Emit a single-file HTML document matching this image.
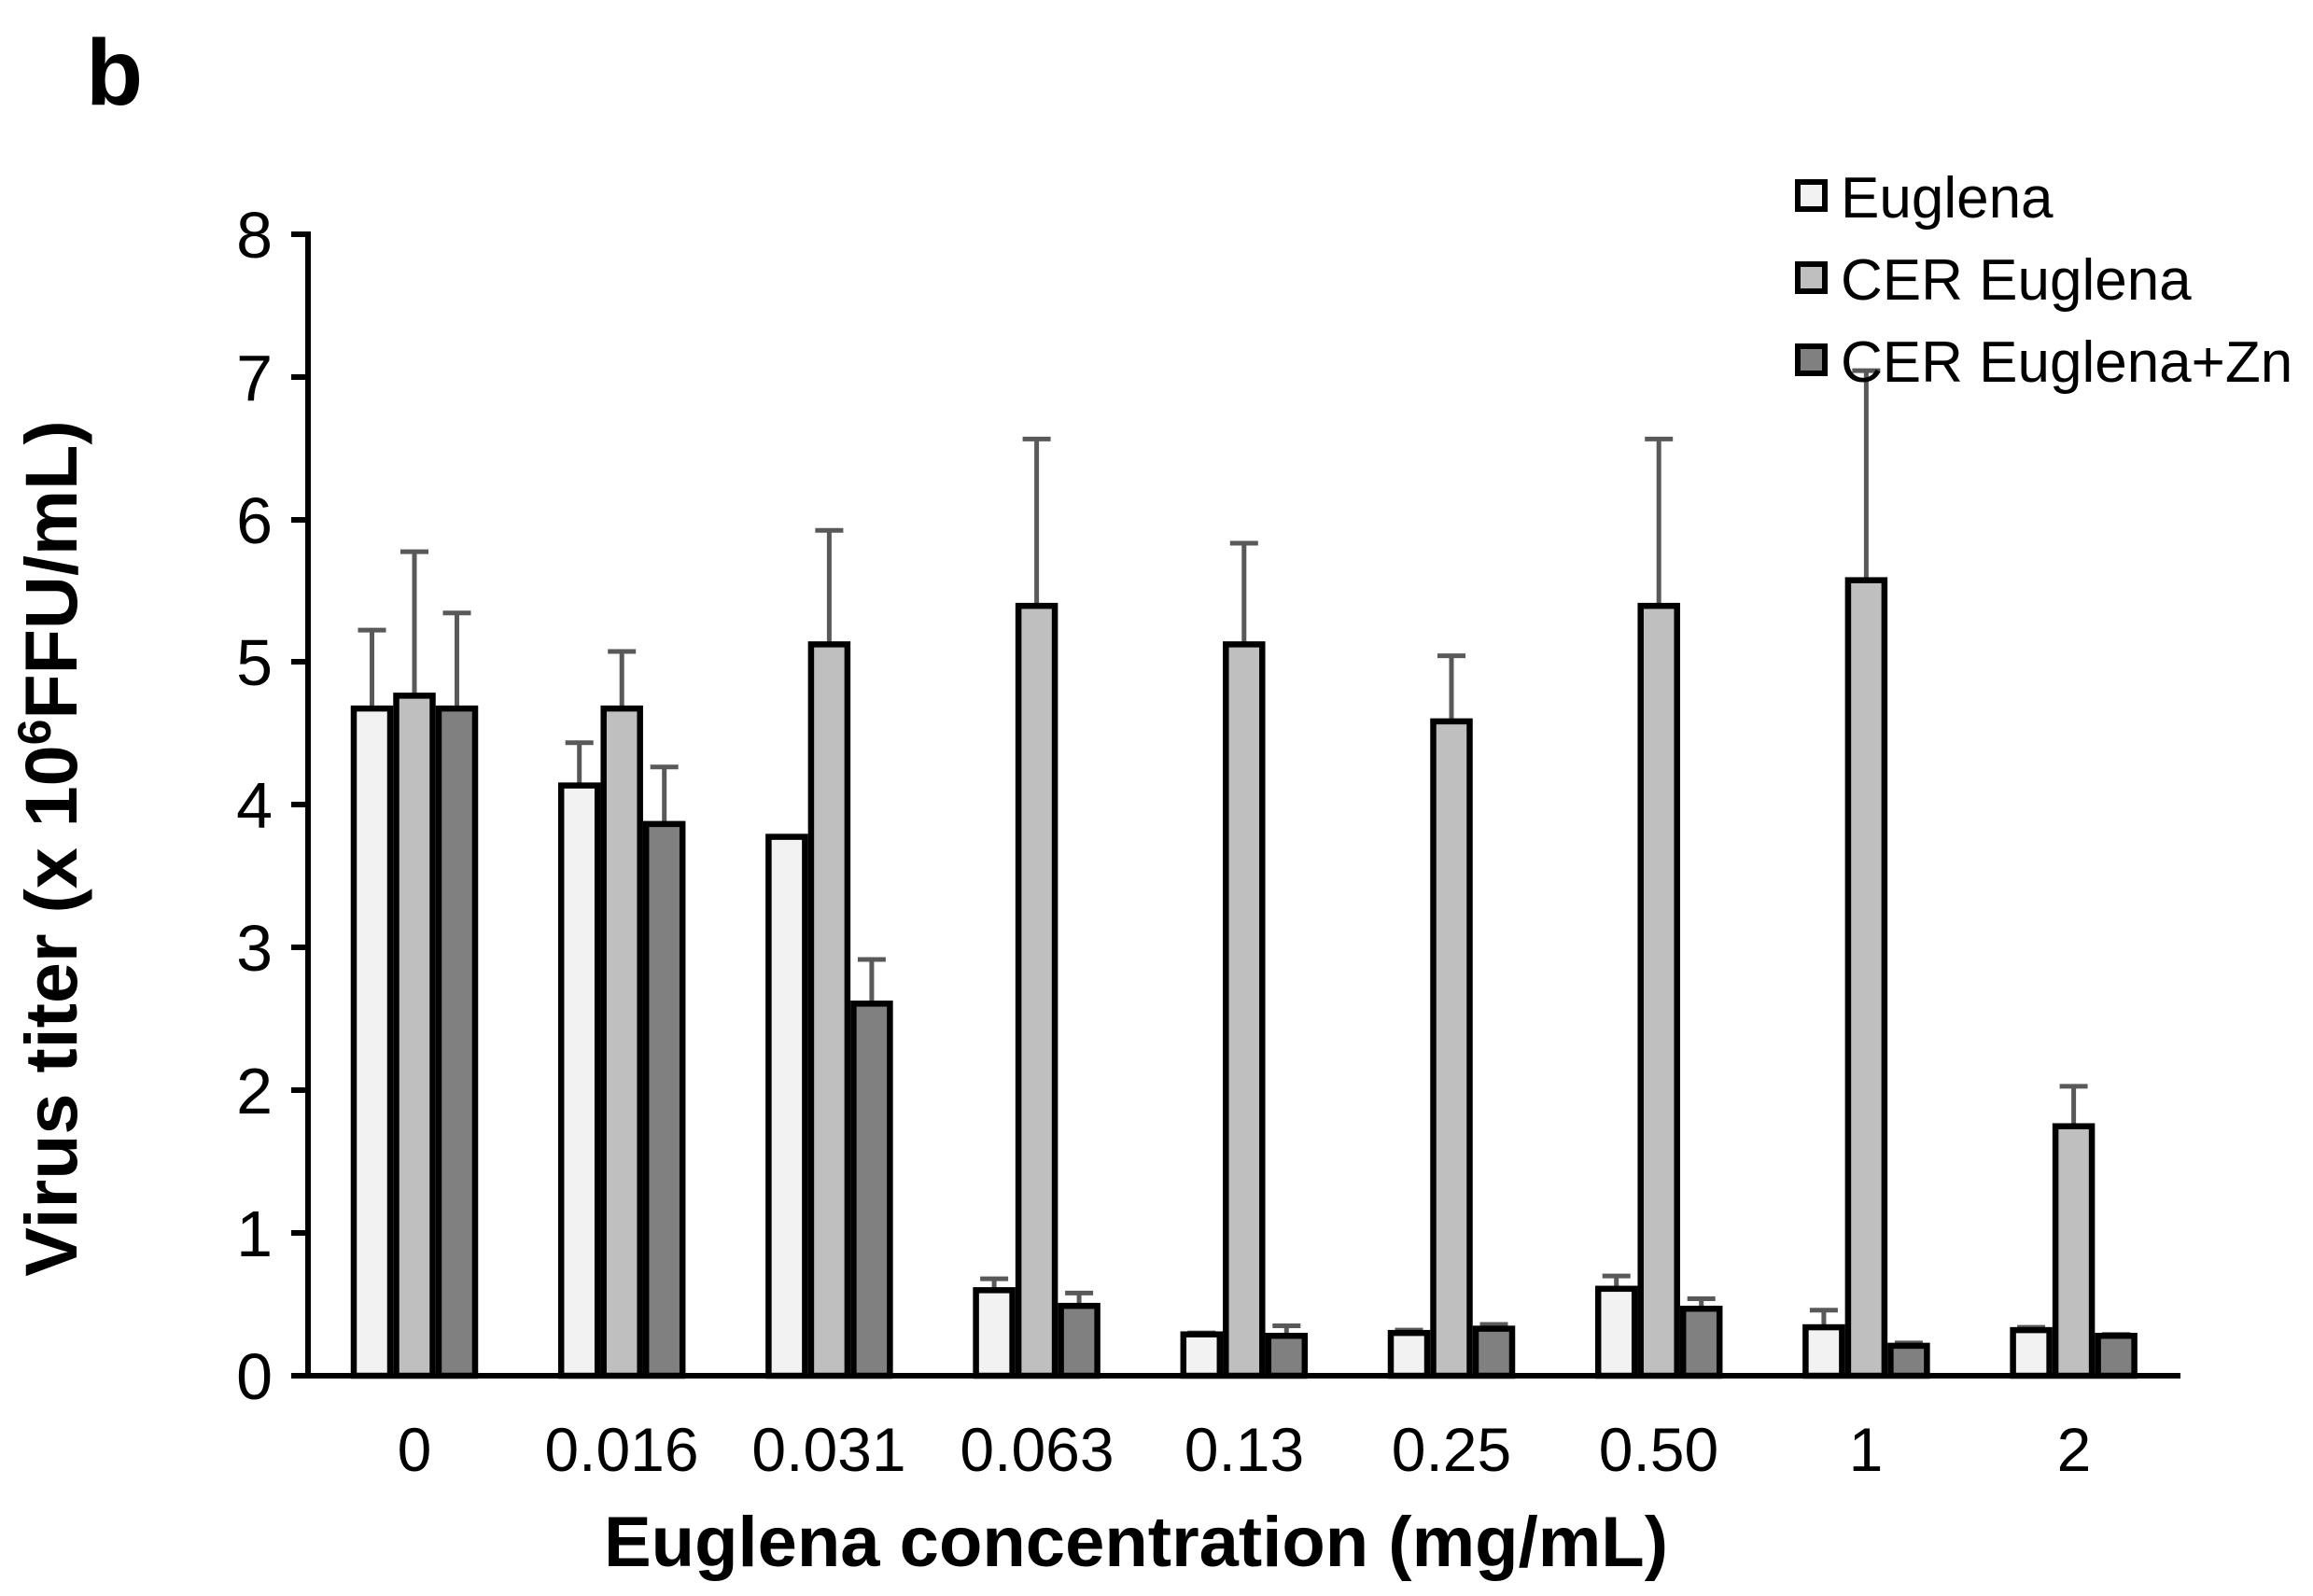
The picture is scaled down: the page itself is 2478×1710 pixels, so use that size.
<!DOCTYPE html>
<html><head><meta charset="utf-8"><style>body{margin:0;background:#fff}svg{display:block}</style></head><body>
<svg width="2478" height="1710" xmlns="http://www.w3.org/2000/svg" font-family="Liberation Sans, Arial, sans-serif">
<rect width="2478" height="1710" fill="#fff"/>
<text x="92" y="112" font-size="100" font-weight="bold">b</text>
<g id="bars"></g>
<g stroke="#000" stroke-width="6">
<line x1="330" y1="248" x2="330" y2="1474"/>
<line x1="312" y1="1474" x2="2336" y2="1474"/>
<line x1="312" y1="251" x2="330" y2="251"/><line x1="312" y1="404" x2="330" y2="404"/>
<line x1="312" y1="557" x2="330" y2="557"/><line x1="312" y1="709" x2="330" y2="709"/>
<line x1="312" y1="862" x2="330" y2="862"/><line x1="312" y1="1015" x2="330" y2="1015"/>
<line x1="312" y1="1168" x2="330" y2="1168"/><line x1="312" y1="1321" x2="330" y2="1321"/>
</g>
<g font-size="70" text-anchor="end">
<text x="292" y="276">8</text><text x="292" y="429">7</text><text x="292" y="582">6</text><text x="292" y="734">5</text>
<text x="292" y="887">4</text><text x="292" y="1040">3</text><text x="292" y="1193">2</text><text x="292" y="1346">1</text><text x="292" y="1499">0</text>
</g>
<g font-size="66" text-anchor="middle">
<text x="444" y="1576">0</text><text x="666" y="1576">0.016</text><text x="888" y="1576">0.031</text>
<text x="1111" y="1576">0.063</text><text x="1333" y="1576">0.13</text><text x="1555" y="1576">0.25</text>
<text x="1777" y="1576">0.50</text><text x="1999" y="1576">1</text><text x="2222" y="1576">2</text>
</g>
<text x="1217" y="1678" font-size="76" font-weight="bold" text-anchor="middle">Euglena concentration (mg/mL)</text>
<text transform="translate(82,909) rotate(-90)" font-size="79" font-weight="bold" text-anchor="middle">Virus titer (x 10<tspan font-size="50" dy="-28">6</tspan><tspan dy="28">FFU/mL)</tspan></text>
<g font-size="62">
<rect x="1926" y="195" width="29" height="29" fill="#f2f2f2" stroke="#000" stroke-width="6"/>
<text x="1972" y="233">Euglena</text>
<rect x="1926" y="283" width="29" height="29" fill="#bfbfbf" stroke="#000" stroke-width="6"/>
<text x="1972" y="321">CER Euglena</text>
<rect x="1926" y="371" width="29" height="29" fill="#808080" stroke="#000" stroke-width="6"/>
<text x="1972" y="409">CER Euglena+Zn</text>
</g>
</svg>
<script>
var d=[[4.68,4.77,4.68,5.23,5.78,5.35],[4.14,4.68,3.87,4.44,5.08,4.27],[3.78,5.13,2.61,3.78,5.93,2.92],
[0.6,5.4,0.49,0.68,6.57,0.58],[0.29,5.13,0.28,0.30,5.84,0.35],[0.30,4.59,0.33,0.32,5.05,0.36],
[0.61,5.4,0.47,0.70,6.57,0.54],[0.34,5.58,0.21,0.46,7.05,0.23],[0.32,1.75,0.28,0.34,2.03,0.29]];
var f=['#f2f2f2','#bfbfbf','#808080'],s='';
function Y(v){return 1474-v*152.75;}
for(var i=0;i<9;i++){var c=444+i*222.2;for(var j=0;j<3;j++){var x=c+(j-1)*45.5,v=d[i][j],e=d[i][j+3];
if(e>v)s+='<line x1="'+x+'" y1="'+Y(v)+'" x2="'+x+'" y2="'+Y(e)+'" stroke="#595959" stroke-width="5"/><line x1="'+(x-15)+'" y1="'+Y(e)+'" x2="'+(x+15)+'" y2="'+Y(e)+'" stroke="#595959" stroke-width="5"/>';
s+='<rect x="'+(x-19.5)+'" y="'+Y(v)+'" width="39" height="'+(v*152.75)+'" fill="'+f[j]+'" stroke="#000" stroke-width="6.5"/>';}}
document.getElementById('bars').innerHTML=s;
</script>
</body></html>
